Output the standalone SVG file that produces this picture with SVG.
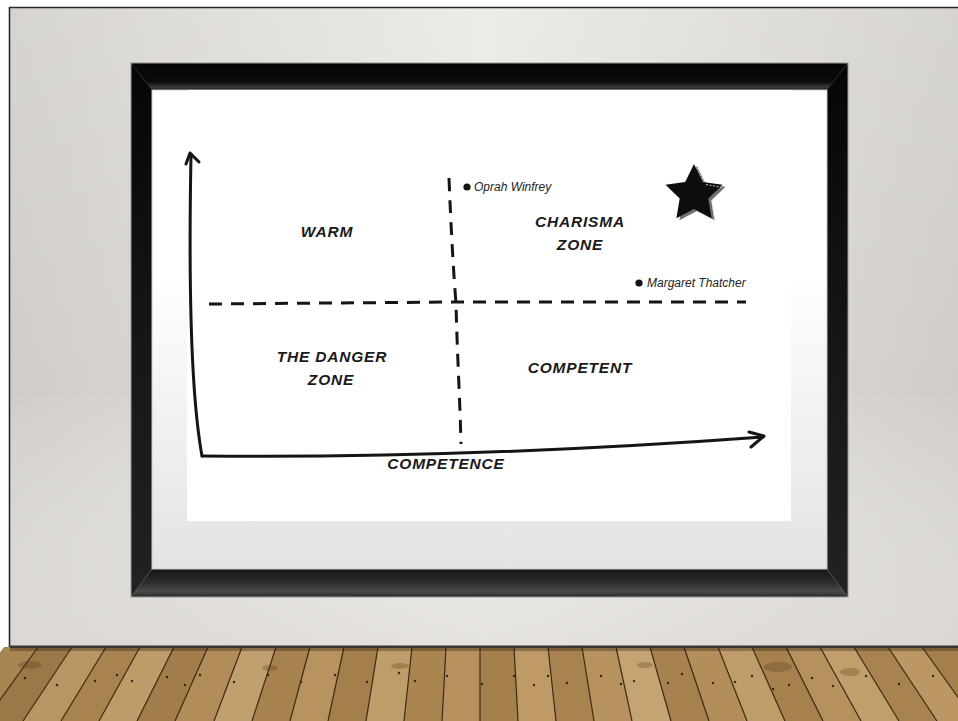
<svg xmlns="http://www.w3.org/2000/svg" width="958" height="721" viewBox="0 0 958 721">
<defs>
<linearGradient id="wall" x1="0" y1="0" x2="1" y2="0">
<stop offset="0" stop-color="#d0cdc8"/>
<stop offset="0.5" stop-color="#eae8e4"/>
<stop offset="1" stop-color="#d0cdc8"/>
</linearGradient>
<linearGradient id="wallv" x1="0" y1="0" x2="0" y2="1">
<stop offset="0" stop-color="#ffffff" stop-opacity="0.15"/>
<stop offset="0.6" stop-color="#ffffff" stop-opacity="0"/>
<stop offset="1" stop-color="#e2dfda" stop-opacity="0.6"/>
</linearGradient>
<linearGradient id="mat" x1="0" y1="0" x2="0" y2="1">
<stop offset="0" stop-color="#ffffff"/>
<stop offset="0.38" stop-color="#ffffff"/>
<stop offset="1" stop-color="#e3e3e3"/>
</linearGradient>
<linearGradient id="fbottom" x1="0" y1="0" x2="0" y2="1">
<stop offset="0" stop-color="#151515"/>
<stop offset="0.45" stop-color="#2b2b2b"/>
<stop offset="0.8" stop-color="#4a4a4a"/>
<stop offset="1" stop-color="#2a2a2a"/>
</linearGradient>
<linearGradient id="ftop" x1="0" y1="0" x2="0" y2="1">
<stop offset="0" stop-color="#050505"/>
<stop offset="0.7" stop-color="#0b0b0b"/>
<stop offset="0.9" stop-color="#3a3a3a"/>
<stop offset="1" stop-color="#1a1a1a"/>
</linearGradient>
<linearGradient id="fside" x1="0" y1="0" x2="0" y2="1">
<stop offset="0" stop-color="#050505"/>
<stop offset="0.45" stop-color="#141414"/>
<stop offset="1" stop-color="#222"/>
</linearGradient>
<linearGradient id="wood" x1="0" y1="0" x2="0" y2="1">
<stop offset="0" stop-color="#9a7544"/>
<stop offset="1" stop-color="#b48f5c"/>
</linearGradient>
<style>
.lbl{font-family:"Liberation Sans",Arial,sans-serif;font-weight:bold;font-style:italic;font-size:15.5px;fill:#1a1a1a;text-anchor:middle;letter-spacing:0.8px}
.name{font-family:"Liberation Sans",Arial,sans-serif;font-style:italic;font-size:12px;fill:#222}
.axis{fill:none;stroke:#151515;stroke-width:3;stroke-linecap:round;stroke-linejoin:round}
.dash{fill:none;stroke:#151515;stroke-width:3;stroke-dasharray:13 9}
.plankline{stroke:#3b2a17;stroke-width:1.2}
.nail{fill:#3a2614}
</style>
</defs>

<!-- slide background -->
<rect x="0" y="0" width="958" height="721" fill="#ffffff"/>
<rect x="9" y="7" width="949" height="640" fill="url(#wall)"/>
<rect x="9" y="7" width="949" height="640" fill="url(#wallv)"/>
<line x1="9" y1="7.5" x2="958" y2="7.5" stroke="#2a2a2a" stroke-width="1.6"/>
<line x1="9.5" y1="7" x2="9.5" y2="721" stroke="#2a2a2a" stroke-width="1.6"/>

<!-- floor -->
<g id="floor">
<rect x="10" y="647" width="948" height="74" fill="url(#wood)"/>
<polygon points="4,647 38,647 -15,721 -53,721" fill="#a98552"/>
<polygon points="38,647 72,647 23,721 -15,721" fill="#9c7747"/>
<polygon points="72,647 106,647 61,721 23,721" fill="#b99564"/>
<polygon points="106,647 140,647 99,721 61,721" fill="#a8834f"/>
<polygon points="140,647 174,647 137,721 99,721" fill="#bf9b69"/>
<polygon points="174,647 208,647 175,721 137,721" fill="#a27d4b"/>
<polygon points="208,647 242,647 214,721 175,721" fill="#b28d59"/>
<polygon points="242,647 276,647 252,721 214,721" fill="#c29f6f"/>
<polygon points="276,647 310,647 290,721 252,721" fill="#a7814e"/>
<polygon points="310,647 344,647 328,721 290,721" fill="#b8935f"/>
<polygon points="344,647 378,647 366,721 328,721" fill="#a47e4b"/>
<polygon points="378,647 412,647 404,721 366,721" fill="#c09c6a"/>
<polygon points="412,647 446,647 442,721 404,721" fill="#aa8550"/>
<polygon points="446,647 480,647 480,721 442,721" fill="#b6915d"/>
<polygon points="480,647 514,647 518,721 480,721" fill="#a57f4c"/>
<polygon points="514,647 548,647 556,721 518,721" fill="#bf9a67"/>
<polygon points="548,647 582,647 594,721 556,721" fill="#a8824f"/>
<polygon points="582,647 616,647 632,721 594,721" fill="#b8925e"/>
<polygon points="616,647 650,647 671,721 632,721" fill="#c5a372"/>
<polygon points="650,647 684,647 709,721 671,721" fill="#a8824e"/>
<polygon points="684,647 718,647 747,721 709,721" fill="#b38e5a"/>
<polygon points="718,647 752,647 785,721 747,721" fill="#c09c6a"/>
<polygon points="752,647 786,647 823,721 785,721" fill="#a7814d"/>
<polygon points="786,647 820,647 861,721 823,721" fill="#b6915e"/>
<polygon points="820,647 854,647 899,721 861,721" fill="#c19e6c"/>
<polygon points="854,647 888,647 937,721 899,721" fill="#a9834f"/>
<polygon points="888,647 922,647 975,721 937,721" fill="#bc9764"/>
<polygon points="922,647 958,647 1015,721 975,721" fill="#a47e4b"/>
<g class="plankline">
<line x1="38" y1="647" x2="-15" y2="721"/><line x1="72" y1="647" x2="23" y2="721"/>
<line x1="106" y1="647" x2="61" y2="721"/><line x1="140" y1="647" x2="99" y2="721"/>
<line x1="174" y1="647" x2="137" y2="721"/><line x1="208" y1="647" x2="175" y2="721"/>
<line x1="242" y1="647" x2="214" y2="721"/><line x1="276" y1="647" x2="252" y2="721"/>
<line x1="310" y1="647" x2="290" y2="721"/><line x1="344" y1="647" x2="328" y2="721"/>
<line x1="378" y1="647" x2="366" y2="721"/><line x1="412" y1="647" x2="404" y2="721"/>
<line x1="446" y1="647" x2="442" y2="721"/><line x1="480" y1="647" x2="480" y2="721"/>
<line x1="514" y1="647" x2="518" y2="721"/><line x1="548" y1="647" x2="556" y2="721"/>
<line x1="582" y1="647" x2="594" y2="721"/><line x1="616" y1="647" x2="632" y2="721"/>
<line x1="650" y1="647" x2="671" y2="721"/><line x1="684" y1="647" x2="709" y2="721"/>
<line x1="718" y1="647" x2="747" y2="721"/><line x1="752" y1="647" x2="785" y2="721"/>
<line x1="786" y1="647" x2="823" y2="721"/><line x1="820" y1="647" x2="861" y2="721"/>
<line x1="854" y1="647" x2="899" y2="721"/><line x1="888" y1="647" x2="937" y2="721"/>
<line x1="922" y1="647" x2="975" y2="721"/>
</g>
<g opacity="0.3" fill="#5a3a1a">
<ellipse cx="30" cy="665" rx="12" ry="4"/><ellipse cx="270" cy="668" rx="8" ry="3"/>
<ellipse cx="400" cy="666" rx="9" ry="3"/><ellipse cx="645" cy="665" rx="8" ry="3"/>
<ellipse cx="778" cy="667" rx="14" ry="5"/><ellipse cx="850" cy="672" rx="10" ry="4"/>
</g>
<g class="nail">
<circle cx="25" cy="678" r="1.3"/><circle cx="57" cy="685" r="1.3"/><circle cx="95" cy="681" r="1.2"/>
<circle cx="117" cy="675" r="1.3"/><circle cx="132" cy="681" r="1.2"/><circle cx="167" cy="677" r="1.2"/>
<circle cx="200" cy="675" r="1.2"/><circle cx="185" cy="685" r="1.2"/><circle cx="234" cy="682" r="1.2"/>
<circle cx="268" cy="675" r="1.2"/><circle cx="301" cy="682" r="1.2"/><circle cx="335" cy="675" r="1.2"/>
<circle cx="367" cy="682" r="1.2"/><circle cx="399" cy="673" r="1.2"/><circle cx="415" cy="681" r="1.2"/>
<circle cx="447" cy="676" r="1.2"/><circle cx="482" cy="684" r="1.2"/><circle cx="514" cy="676" r="1.2"/>
<circle cx="534" cy="685" r="1.2"/><circle cx="548" cy="676" r="1.2"/><circle cx="567" cy="683" r="1.2"/>
<circle cx="601" cy="676" r="1.2"/><circle cx="621" cy="684" r="1.2"/><circle cx="634" cy="681" r="1.2"/>
<circle cx="668" cy="683" r="1.2"/><circle cx="682" cy="674" r="1.2"/><circle cx="713" cy="683" r="1.2"/>
<circle cx="735" cy="682" r="1.2"/><circle cx="752" cy="676" r="1.2"/><circle cx="773" cy="689" r="1.2"/>
<circle cx="789" cy="685" r="1.2"/><circle cx="812" cy="678" r="1.2"/><circle cx="833" cy="686" r="1.2"/>
<circle cx="866" cy="676" r="1.2"/><circle cx="899" cy="684" r="1.2"/><circle cx="933" cy="676" r="1.2"/>
</g>
<rect x="10" y="645.5" width="948" height="2.5" fill="#3a3530"/>
<rect x="10" y="648" width="948" height="3" fill="#2a1d10" opacity="0.35"/>
</g>

<!-- frame -->
<g id="frame">
<rect x="131" y="63" width="717" height="534" fill="#0b0b0b"/>
<polygon points="131,63 848,63 827,90 152,90" fill="url(#ftop)"/>
<polygon points="131,63 152,90 152,569 131,597" fill="url(#fside)"/>
<polygon points="848,63 827,90 827,569 848,597" fill="url(#fside)"/>
<polygon points="131,597 152,569 827,569 848,597" fill="url(#fbottom)"/>
<line x1="131" y1="63" x2="152" y2="90" stroke="#2e2e2e" stroke-width="1"/>
<line x1="848" y1="63" x2="827" y2="90" stroke="#2e2e2e" stroke-width="1"/>
<line x1="131" y1="597" x2="152" y2="569" stroke="#555" stroke-width="1"/>
<line x1="848" y1="597" x2="827" y2="569" stroke="#555" stroke-width="1"/>
<rect x="131" y="63" width="717" height="534" fill="none" stroke="#9a9893" stroke-width="1"/>
<rect x="152" y="90" width="675" height="479" fill="url(#mat)"/>
<rect x="152" y="90" width="675" height="479" fill="none" stroke="#c9c9c9" stroke-width="1"/>
<rect x="187" y="90" width="604" height="431" fill="#ffffff"/>
</g>

<!-- connectors: axes and dashed dividers -->
<g id="connectors">
<path class="axis" d="M191,155 C189,260 190,390 202,456"/>
<path class="axis" d="M186,164 L190,153 L199,162"/>
<path class="axis" d="M202,456 C400,458 600,449 763,437"/>
<path class="axis" d="M749,432 L764,436 L751,447"/>
<path class="dash" d="M209,304 L456,302 L746,302"/>
<path class="dash" d="M449,178 C451,230 454,280 456,303 C457,350 460,400 461,444"/>
</g>

<!-- quadrant labels -->
<g id="warm"><text class="lbl" x="327" y="237">WARM</text></g>
<g id="charisma-zone"><text class="lbl" x="580" y="227">CHARISMA</text><text class="lbl" x="580" y="250">ZONE</text></g>
<g id="danger-zone"><text class="lbl" x="332" y="362">THE DANGER</text><text class="lbl" x="331" y="385">ZONE</text></g>
<g id="competent"><text class="lbl" x="580" y="373">COMPETENT</text></g>
<g id="competence"><text class="lbl" x="446" y="469">COMPETENCE</text></g>

<!-- data points -->
<g id="oprah"><circle cx="467" cy="187" r="3.6" fill="#111"/><text class="name" x="474" y="191">Oprah Winfrey</text></g>
<g id="thatcher"><circle cx="639" cy="283" r="3.6" fill="#111"/><text class="name" x="647" y="287">Margaret Thatcher</text></g>

<!-- star -->
<g id="star">
<polygon transform="translate(3,2)" points="694,164 702.8,181.9 722.5,184.7 708.3,198.6 711.6,218.3 694,209 676.4,218.3 679.7,198.6 665.5,184.7 685.2,181.9" fill="#707070"/>
<polygon points="694,164 702.8,181.9 722.5,184.7 708.3,198.6 711.6,218.3 694,209 676.4,218.3 679.7,198.6 665.5,184.7 685.2,181.9" fill="#0d0d0d"/>
<path d="M697,168 L704,182 M706,184.5 L723,187.5 M712,201 L714.5,219 M697,211.5 L710,219" stroke="#dcdcdc" stroke-width="0.9" stroke-dasharray="2 1.5" fill="none"/>
</g>
</svg>
